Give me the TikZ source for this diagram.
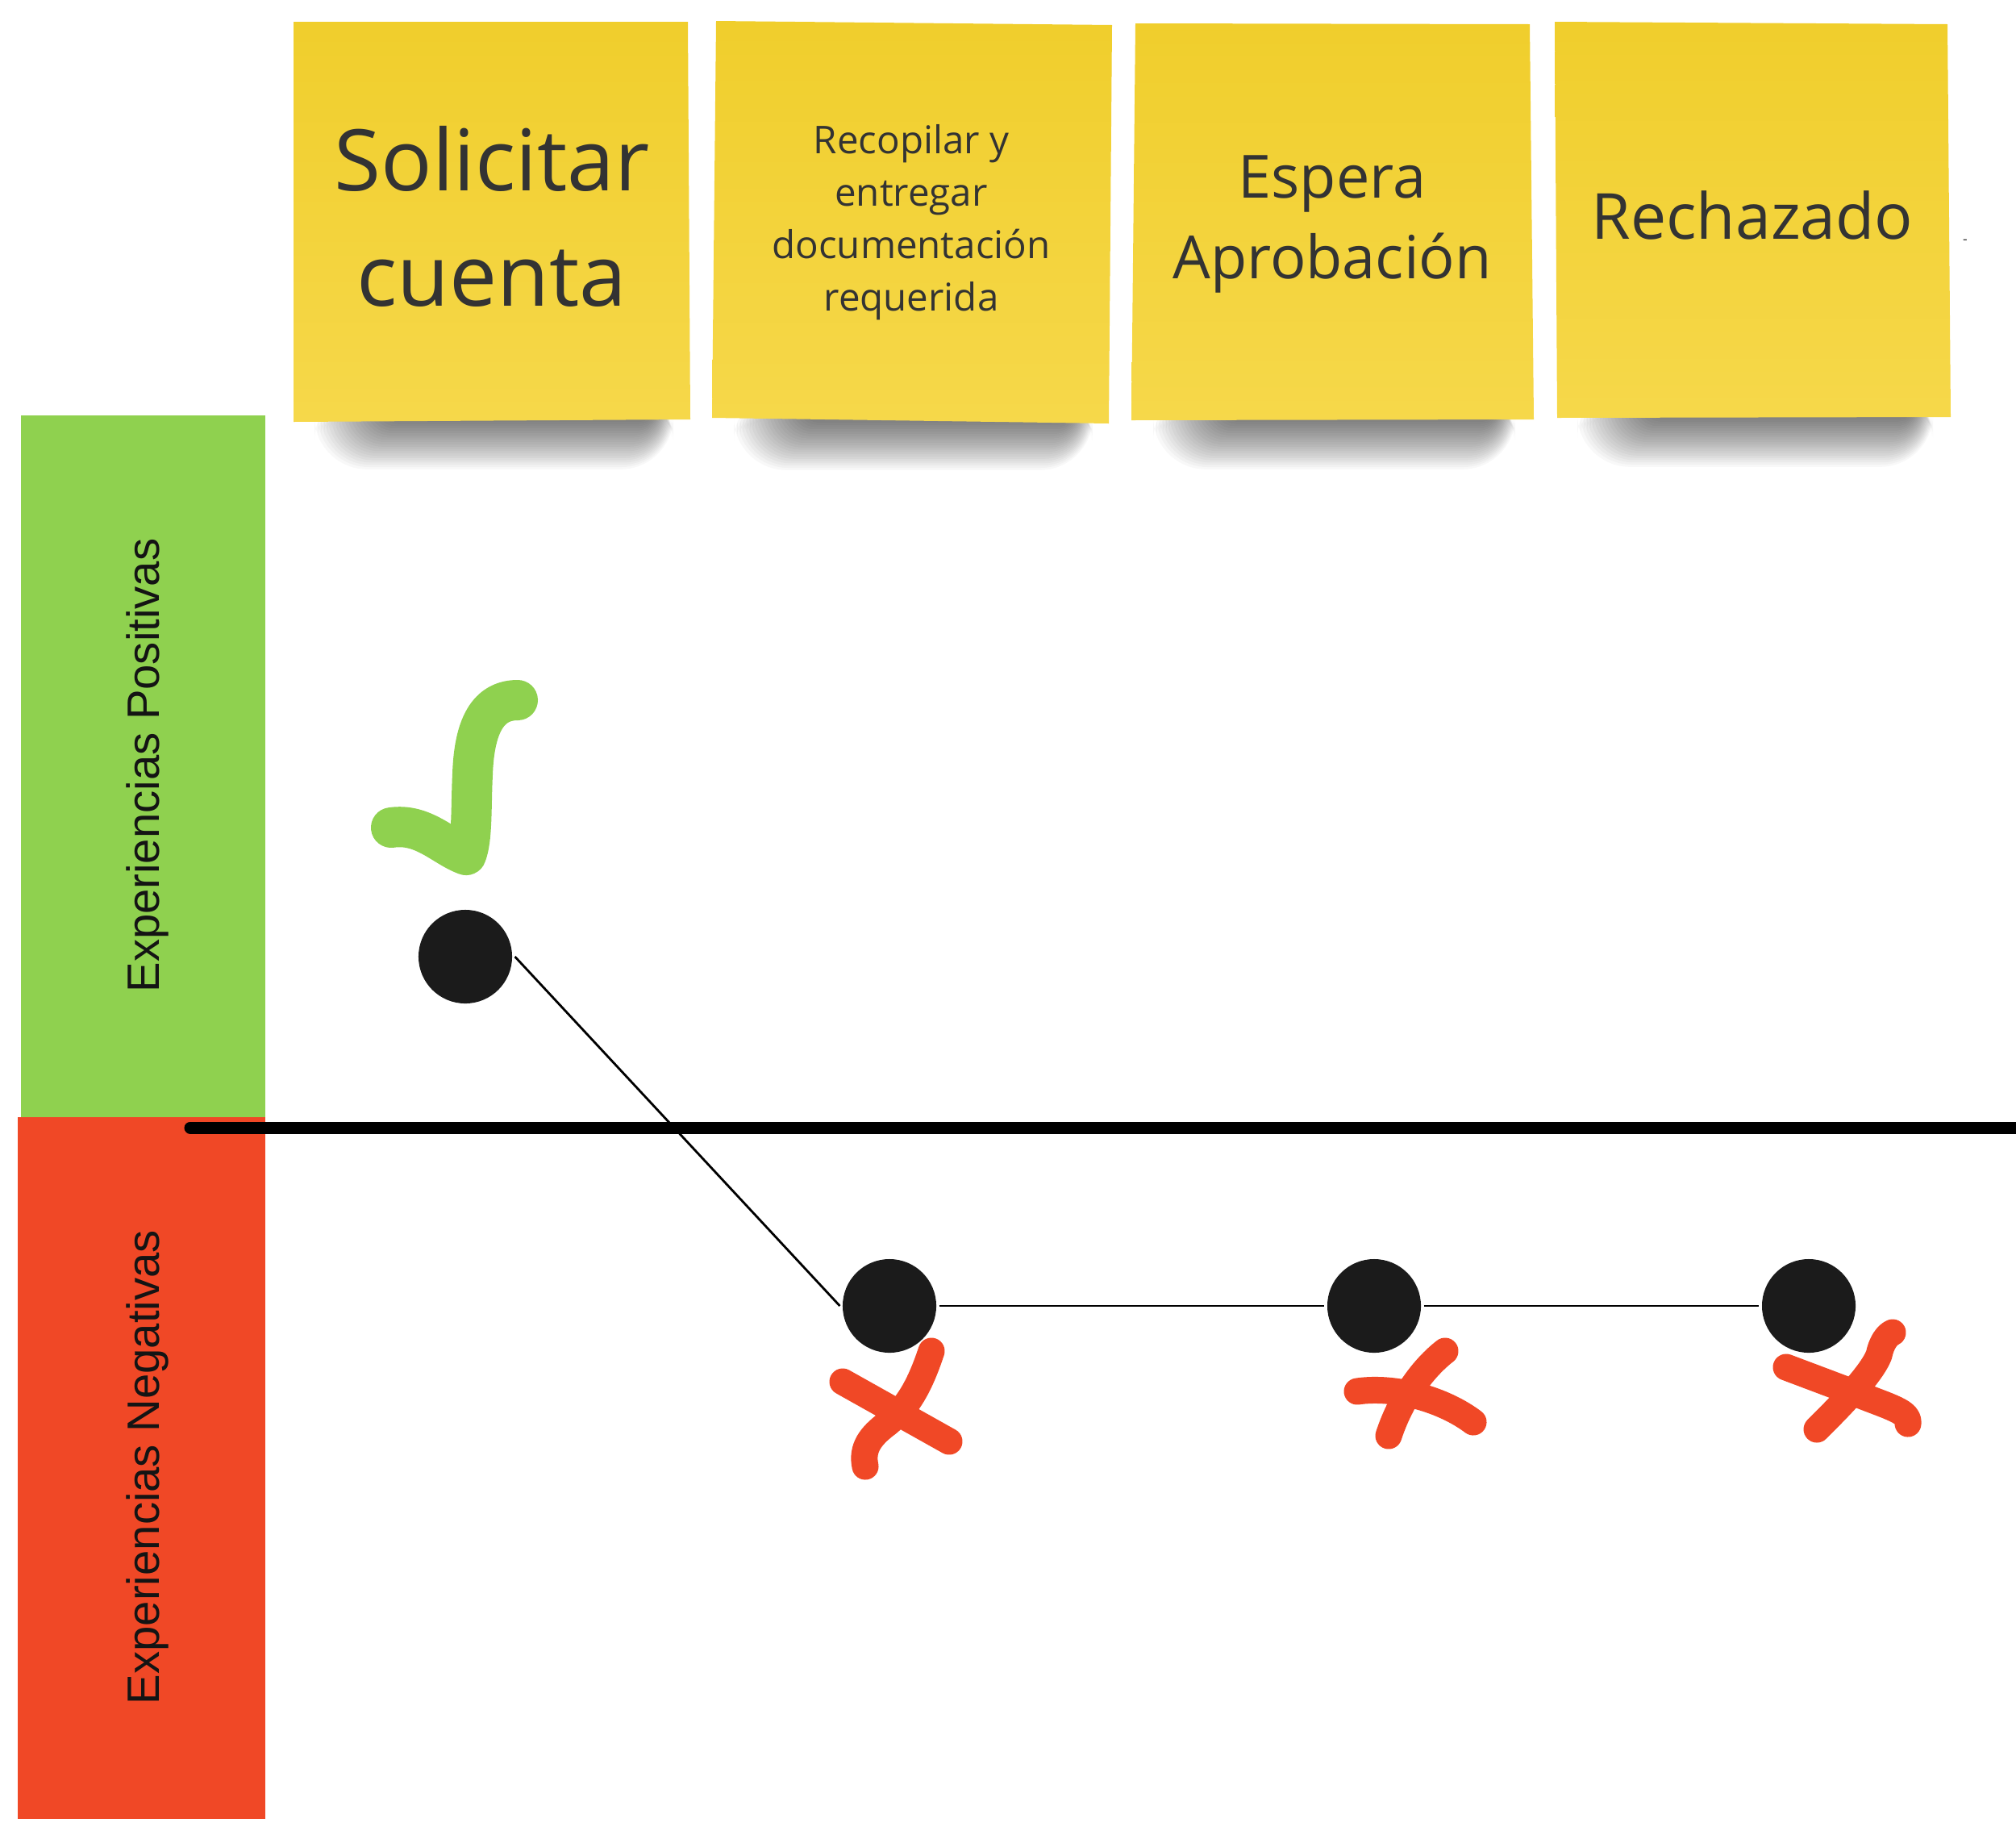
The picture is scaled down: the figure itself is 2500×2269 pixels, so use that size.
\documentclass[tikz,border=0pt]{standalone}
\usepackage{fontspec}
\setmainfont{Open Sans}
\newfontfamily\labelfont{Liberation Sans}
\definecolor{stickytop}{RGB}{240,206,44}
\definecolor{stickybot}{RGB}{246,216,74}
\definecolor{notetext}{RGB}{51,51,51}
\definecolor{posgreen}{RGB}{143,209,79}
\definecolor{negred}{RGB}{240,72,38}
\definecolor{dotblack}{RGB}{27,27,27}
\newcommand{\noteshadow}[3]{%
  \foreach \i in {0,...,21}{%
    \fill[black, opacity=0.027, rounded corners={6pt+\i*0.6pt}]
      ({#1+110-\i*4},{#3-40}) rectangle ({#2-42+\i*1.0},{#3+2+\i*2.8});
  }%
}
\begin{document}
\begin{tikzpicture}[x=0.01cm, y=-0.01cm,
  sticky/.style={top color=stickytop, bottom color=stickybot, draw=none},
  notelabel/.style={text=notetext, align=center, inner sep=0pt},
  dot/.style={circle, fill=dotblack, minimum size=1.16cm, inner sep=0pt, outer sep=1pt},
  link/.style={line width=0.8pt, black},
  axis/.style={line width=0.15cm, black, line cap=round},
  chk/.style={line width=0.5cm, posgreen, line cap=round, line join=round},
  crs/.style={line width=0.33cm, negred, line cap=round, line join=round},
  sidelabel/.style={rotate=90, text=black!92, inner sep=0pt,
    font=\labelfont\fontsize{16}{19}\selectfont}
]
\useasboundingbox[fill=white] (0,0) rectangle (2500,2269);

% side bars
\fill[posgreen] (26,515) rectangle (329,1385);
\fill[negred] (22,1385) rectangle (329,2255);
\node[sidelabel] (pos) at (183,949) {Experiencias Positivas};
\node[sidelabel] (neg) at (183,1819) {Experiencias Negativas};

% sticky note shadows
\noteshadow{364}{856}{521}
\noteshadow{884}{1376}{522}
\noteshadow{1404}{1900}{521}
\noteshadow{1930}{2418}{518}

% sticky notes
\shade[sticky] (364,27) -- (853,27) -- (856,520) -- (364,523) -- cycle;
\shade[sticky] (888,26) -- (1379,31) -- (1375,525) -- (883,518) -- cycle;
\shade[sticky] (1408,29) -- (1897,30) -- (1902,520) -- (1403,521) -- cycle;
\shade[sticky] (1928,27) -- (2415,30) -- (2419,517) -- (1931,518) -- cycle;

\node[notelabel, font=\fontsize{30}{40.7}\selectfont] (n1) at (610,268) {Solicitar\\cuenta};
\node[notelabel, font=\fontsize{13.5}{18.5}\selectfont] (n2) at (1130,276) {Recopilar y\\entregar\\documentación\\requerida};
\node[notelabel, font=\fontsize{21}{28.5}\selectfont] (n3) at (1652,278) {Espera\\Aprobación};
\node[notelabel, font=\fontsize{22.4}{27}\selectfont] (n4) at (2173,267) {Rechazado};
\node[notelabel, font=\fontsize{5}{6}\selectfont] (dash) at (2437,300) {-};

% zero line
\coordinate (axL) at (236,1398);
\coordinate (axR) at (2515,1398);
\draw[axis] (axL) -- (axR);

% journey points
\node[dot] (d1) at (577,1186) {};
\node[dot] (d2) at (1103,1619) {};
\node[dot] (d3) at (1704,1619) {};
\node[dot] (d4) at (2243,1619) {};
\draw[link] (d1.east) -- (d2.west);
\draw[link] (d2.east) -- (d3.west);
\draw[link] (d3.east) -- (d4.west);

% check mark
\draw[chk] (485,1026) .. controls (525,1020) and (550,1050) .. (578,1060)
  .. controls (586,1040) and (584,1000) .. (586,960)
  .. controls (588,900) and (605,868) .. (642,868);

% crosses
\draw[crs] (1045,1713) -- (1177,1787);
\draw[crs] (1155,1675) .. controls (1140,1720) and (1125,1745) .. (1100,1765)
  .. controls (1080,1780) and (1068,1795) .. (1073,1818);
\draw[crs] (1683,1725) .. controls (1730,1718) and (1790,1735) .. (1827,1763);
\draw[crs] (1722,1780) .. controls (1735,1740) and (1760,1700) .. (1792,1675);
\draw[crs] (2215,1695) -- (2300,1727) .. controls (2345,1745) and (2368,1750) .. (2366,1765);
\draw[crs] (2253,1772) .. controls (2280,1745) and (2320,1705) .. (2330,1680)
  .. controls (2333,1665) and (2340,1655) .. (2347,1652);
\end{tikzpicture}
\end{document}
